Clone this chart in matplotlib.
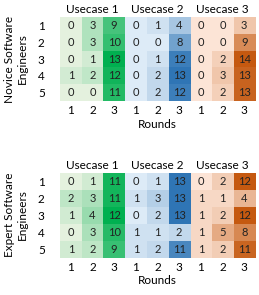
import numpy as np
import matplotlib
matplotlib.use("Agg")
import matplotlib.pyplot as plt
from matplotlib.colors import to_rgb

# data: rows = participants 1..5, columns = rounds 1..3
novice_uc1 = [[0, 3, 9], [0, 3, 10], [0, 1, 13], [1, 2, 12], [0, 0, 11]]
novice_uc2 = [[0, 1, 4], [0, 0, 8], [0, 1, 12], [0, 2, 13], [0, 2, 12]]
novice_uc3 = [[0, 0, 3], [0, 0, 9], [0, 2, 14], [0, 3, 13], [0, 2, 13]]

expert_uc1 = [[0, 1, 11], [2, 3, 11], [1, 4, 12], [0, 3, 10], [1, 2, 9]]
expert_uc2 = [[0, 1, 13], [1, 3, 13], [0, 2, 13], [1, 1, 2], [1, 2, 11]]
expert_uc3 = [[0, 2, 12], [1, 1, 4], [1, 2, 12], [1, 5, 8], [1, 2, 11]]

usecases = ["Usecase 1", "Usecase 2", "Usecase 3"]
rounds = ["1", "2", "3"]
participants = ["1", "2", "3", "4", "5"]
groups = ["Novice Software\nEngineers", "Expert Software\nEngineers"]

# light -> dark colour per usecase
scales = [("#E4F1DE", "#00B050"), ("#DDEBF7", "#2F75B5"), ("#FCE4D6", "#C55A11")]

plt.rcParams["font.family"] = ["Lato", "DejaVu Sans"]

fig = plt.figure(figsize=(2.59, 2.95), dpi=100)
panels = [
    (groups[0], [novice_uc1, novice_uc2, novice_uc3], [0.2317, 0.6576, 0.753, 0.2847]),
    (groups[1], [expert_uc1, expert_uc2, expert_uc3], [0.2317, 0.127, 0.753, 0.288]),
]

for label, blocks, rect in panels:
    ax = fig.add_axes(rect)
    img = np.zeros((5, 9, 3))
    for b, (block, (lo, hi)) in enumerate(zip(blocks, scales)):
        arr = np.array(block, dtype=float)
        t = (arr - arr.min()) / (arr.max() - arr.min())
        lo_c, hi_c = np.array(to_rgb(lo)), np.array(to_rgb(hi))
        img[:, b * 3:(b + 1) * 3] = lo_c + t[..., None] * (hi_c - lo_c)
        for i in range(5):
            for j in range(3):
                ax.text(b * 3 + j, i, str(block[i][j]), ha="center", va="center",
                        fontsize=8, color="#222222")
    ax.imshow(img, aspect="auto", interpolation="nearest")
    ax.set_xticks(range(9))
    ax.set_xticklabels(rounds * 3, fontsize=8.5)
    ax.set_yticks(range(5))
    ax.set_yticklabels(participants, fontsize=8.5)
    ax.tick_params(length=0, pad=3)
    ax.tick_params(axis="y", pad=11)
    for s in ax.spines.values():
        s.set_visible(False)
    ax.set_xlabel("Rounds", fontsize=8.5, labelpad=2)
    ax.set_ylabel(label, fontsize=8.5, labelpad=7)
    for b, uc in enumerate(usecases):
        ax.text(b * 3 + 1, -0.62, uc, ha="center", va="bottom", fontsize=8.5)

plt.savefig("out.png", dpi=100)
